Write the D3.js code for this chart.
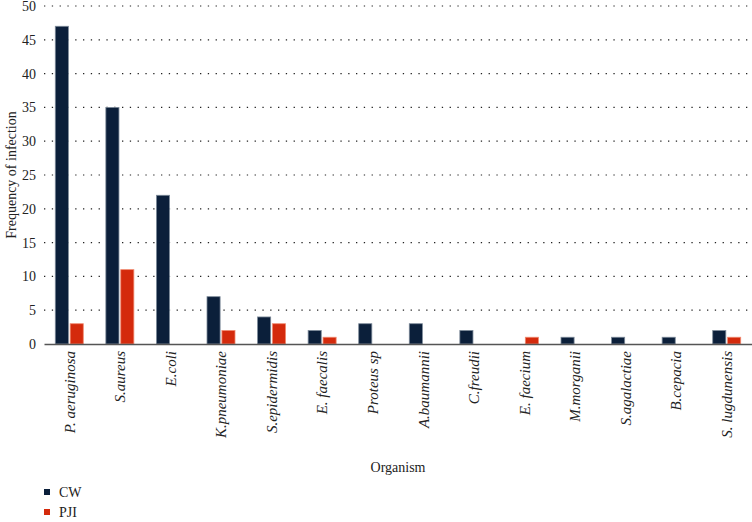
<!DOCTYPE html>
<html>
<head>
<meta charset="utf-8">
<script src="https://cdn.jsdelivr.net/npm/d3@7"></script>
<style>
  body { margin: 0; background: #fff; }
  svg text { font-family: "Liberation Serif", "Times New Roman", "DejaVu Serif", serif !important; }
</style>
</head>
<body>
<div id="chart"></div>
<script>
// organisms on the x axis
const organisms = ["P. aeruginosa", "S.aureus", "E.coli", "K.pneumoniae", "S.epidermidis",
    "E. faecalis", "Proteus sp", "A.baumannii", "C.freudii", "E. faecium", "M.morganii",
    "S.agalactiae", "B.cepacia", "S. lugdunensis"];
const cwValues  = [47, 35, 22, 7, 4, 2, 3, 3, 2, 0, 1, 1, 1, 2];
const pjiValues = [3, 11, 0, 2, 3, 1, 0, 0, 0, 1, 0, 0, 0, 1];
const seriesNames = ["CW", "PJI"];
const yTicks = [0, 5, 10, 15, 20, 25, 30, 35, 40, 45, 50];

const margin = {top: 6, right: 0, bottom: 178, left: 44},
    width = 752 - margin.left - margin.right,
    height = 522 - margin.top - margin.bottom;

const colors = {CW: "#0b1f3a", PJI: "#d42a0c"};
const strokes = {CW: "#7d8a99", PJI: "#f08a70"};

const svg = d3.select("#chart")
    .append("svg")
    .attr("width", 752)
    .attr("height", 522)
    .append("g")
    .attr("transform", `translate(${margin.left},${margin.top})`);

const data = organisms.map((name, i) => ({name: name, CW: cwValues[i], PJI: pjiValues[i]}));

const x = d3.scaleBand()
    .domain(organisms)
    .range([0, width]);

const xSub = d3.scaleBand()
    .domain(seriesNames)
    .range([x.bandwidth() / 2 - 14, x.bandwidth() / 2 + 14])
    .paddingInner(0.12);

const y = d3.scaleLinear()
    .domain([0, 50])
    .range([height, 0]);

// dotted gridlines
svg.append("g")
    .selectAll("line")
    .data(yTicks.filter(d => d > 0))
    .join("line")
    .attr("x1", 0)
    .attr("x2", width)
    .attr("y1", d => y(d))
    .attr("y2", d => y(d))
    .attr("stroke", "#222")
    .attr("stroke-width", 1.2)
    .attr("stroke-dasharray", "1.3,6.5");

// y axis (labels only)
const yAxis = svg.append("g")
    .call(d3.axisLeft(y).tickValues(yTicks).tickSize(0).tickPadding(8));
yAxis.select(".domain").remove();
yAxis.selectAll("text")
    .style("font-size", "14px")
    .attr("fill", "#222");

// bars
const groups = svg.append("g")
    .selectAll("g")
    .data(data)
    .join("g")
    .attr("transform", d => `translate(${x(d.name)},0)`);

groups.selectAll("rect")
    .data(d => seriesNames.map(k => ({key: k, value: d[k]})).filter(e => e.value > 0))
    .join("rect")
    .attr("x", d => xSub(d.key))
    .attr("width", xSub.bandwidth())
    .attr("y", d => y(d.value))
    .attr("height", d => height - y(d.value))
    .attr("fill", d => colors[d.key])
    .attr("stroke", d => strokes[d.key])
    .attr("stroke-width", 0.8);

// x axis
const xAxis = svg.append("g")
    .attr("transform", `translate(0,${height})`)
    .call(d3.axisBottom(x).tickSize(0).tickPadding(0));
xAxis.select(".domain")
    .attr("stroke", "#555")
    .attr("stroke-width", 1.5);
xAxis.selectAll("text")
    .style("font-size", "15px")
    .style("font-style", "italic")
    .attr("fill", "#222")
    .style("text-anchor", "end")
    .attr("dx", "-7")
    .attr("dy", "0.35em")
    .attr("y", 0)
    .attr("transform", "rotate(-90)");

// axis titles
svg.append("text")
    .attr("transform", "rotate(-90)")
    .attr("x", -height / 2)
    .attr("y", -margin.left + 16)
    .attr("text-anchor", "middle")
    .style("font-size", "14px")
    .attr("fill", "#222")
    .text("Frequency of infection");

svg.append("text")
    .attr("x", width / 2)
    .attr("y", height + 128)
    .attr("text-anchor", "middle")
    .style("font-size", "14px")
    .attr("fill", "#222")
    .text("Organism");

// legend
const legend = svg.append("g")
    .attr("transform", `translate(0,${height + 148})`)
    .selectAll("g")
    .data(seriesNames)
    .join("g")
    .attr("transform", (d, i) => `translate(0,${i * 20})`);

legend.append("rect")
    .attr("x", 0)
    .attr("y", -3)
    .attr("width", 6)
    .attr("height", 6)
    .attr("fill", d => colors[d]);

legend.append("text")
    .attr("x", 15)
    .attr("y", 0)
    .attr("dy", "0.35em")
    .style("font-size", "14px")
    .attr("fill", "#222")
    .text(d => d);
</script>
</body>
</html>
